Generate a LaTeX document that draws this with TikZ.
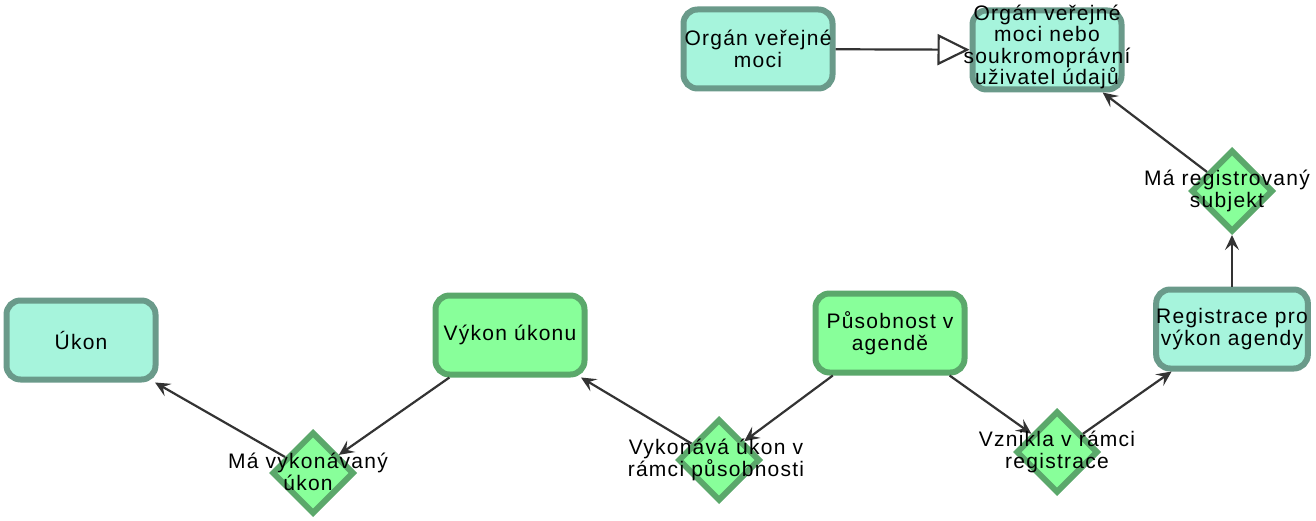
\documentclass[tikz,border=0pt]{standalone}
\usepackage{fontspec}
\setmainfont{Liberation Sans}[LetterSpace=6]
\usetikzlibrary{shapes.geometric,arrows.meta}
\definecolor{tealfill}{RGB}{166,244,220}
\definecolor{tealborder}{RGB}{106,154,138}
\definecolor{greenfill}{RGB}{136,255,154}
\definecolor{greenborder}{RGB}{91,168,107}
\definecolor{edgecol}{RGB}{51,51,51}
\tikzset{
  lbl/.style={font=\fontsize{21}{21.5}\selectfont, align=center, inner sep=0pt, text=black},
  tealbox/.style={lbl, rectangle, rounded corners=14pt, draw=tealborder, fill=tealfill, line width=6pt, minimum width=149pt, minimum height=79pt},
  greenbox/.style={lbl, rectangle, rounded corners=14pt, draw=greenborder, fill=greenfill, line width=6pt, minimum width=149pt, minimum height=79pt},
  dia/.style={diamond, draw=greenborder, fill=greenfill, line width=6pt, minimum width=82pt, minimum height=82pt, inner sep=0pt},
  rel/.style={draw=edgecol, line width=2.2pt, -{Stealth[length=15pt,width=14pt,inset=6pt]}},
  gen/.style={draw=edgecol, line width=2.2pt, -{Triangle[open,length=32pt,width=31pt,fill=white]}}
}
\begin{document}
\begin{tikzpicture}[x=1pt,y=-1pt]
\path[use as bounding box] (0,0) rectangle (1316,521);
% boxes
\node[tealbox] (ovm) at (758,49) {Orgán veřejné\\moci};
\node[tealbox] (ovmn) at (1047,50) {};
\node[tealbox] (ukon) at (81,340) {Úkon};
\node[tealbox] (reg) at (1232,329) {Registrace pro\\výkon agendy};
\node[greenbox] (vyk) at (510,335) {Výkon úkonu};
\node[greenbox] (pus) at (890,333) {Působnost v\\agendě};
% diamonds
\node[dia] (d1) at (313,473) {};
\node[dia] (d2) at (719,460) {};
\node[dia] (d3) at (1057,452) {};
\node[dia] (d4) at (1232,191) {};
% edges
\draw[gen] (ovm) -- (ovmn);
\draw[rel] (reg) -- (d4);
\draw[rel] (d4) -- (ovmn);
\draw[rel] (d3) -- (reg);
\draw[rel] (pus) -- (d3);
\draw[rel] (pus) -- (d2);
\draw[rel] (d2) -- (vyk);
\draw[rel] (vyk) -- (d1);
\draw[rel] (d1) -- (ukon);
% texts
\node[lbl] (ovmnt) at (1047,47) {Orgán veřejné\\moci nebo\\soukromoprávní\\uživatel údajů};
\node[lbl] (d1t) at (308,472) {Má vykonávaný\\úkon};
\node[lbl] (d2t) at (716,460) {Vykonává úkon v\\rámci působnosti};
\node[lbl] (d3t) at (1057,452) {Vznikla v rámci\\registrace};
\node[lbl] (d4t) at (1227,191) {Má registrovaný\\subjekt};
\end{tikzpicture}
\end{document}
